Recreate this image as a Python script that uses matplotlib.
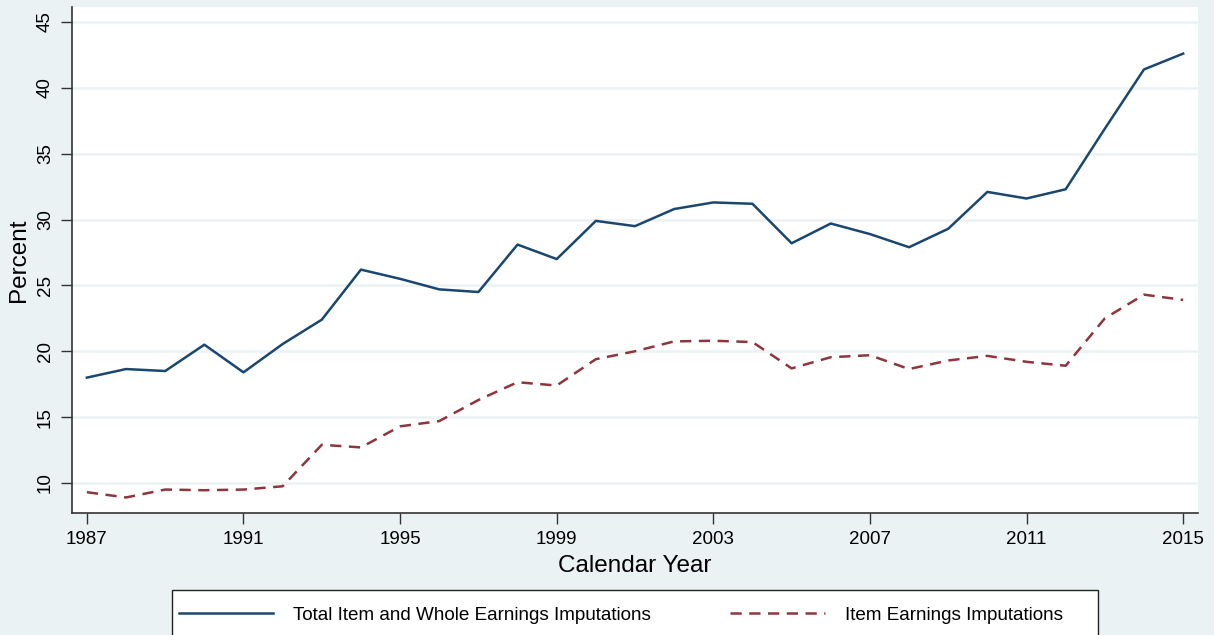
import matplotlib.pyplot as plt
from matplotlib.patches import Rectangle

plt.rcParams['font.family'] = ['Liberation Sans', 'DejaVu Sans']

# data
years = list(range(1987, 2016))
total_imp = [18.0, 18.65, 18.5, 20.5, 18.4, 20.55, 22.4, 26.2, 25.5, 24.7,
             24.5, 28.1, 27.0, 29.9, 29.5, 30.8, 31.3, 31.2, 28.2, 29.7,
             28.9, 27.9, 29.3, 32.1, 31.6, 32.3, 36.9, 41.4, 42.6]
item_imp = [9.3, 8.9, 9.5, 9.45, 9.5, 9.75, 12.9, 12.7, 14.3, 14.7,
            16.3, 17.65, 17.4, 19.4, 20.0, 20.75, 20.8, 20.7, 18.7, 19.55,
            19.7, 18.65, 19.3, 19.65, 19.2, 18.9, 22.5, 24.3, 23.9]
labels = ['Total Item and Whole Earnings Imputations', 'Item Earnings Imputations']
xticks = list(range(1987, 2016, 4))
yticks = list(range(10, 46, 5))

BG = '#eaf2f3'
NAVY = '#1a476f'
MAROON = '#90353b'
W, H = 1214, 635

fig = plt.figure(figsize=(W / 100, H / 100), dpi=100, facecolor=BG)
ax = fig.add_axes([72 / W, 1 - 513 / H, (1198 - 72) / W, (513 - 7) / H])
ax.set_facecolor('white')

ax.plot(years, total_imp, color=NAVY, lw=1.8, label=labels[0])
ax.plot(years, item_imp, color=MAROON, lw=1.8, dashes=(4.5, 3), label=labels[1])

ax.set_xlim(1986.62, 2015.38)
ax.set_ylim(7.72, 46.14)
ax.set_xticks(xticks)
ax.set_yticks(yticks)
ax.grid(axis='y', color=BG, lw=1.8)
ax.set_axisbelow(True)

for s in ['top', 'right']:
    ax.spines[s].set_visible(False)
for s in ['left', 'bottom']:
    ax.spines[s].set_color('#333333')
    ax.spines[s].set_linewidth(1.2)

ax.tick_params(axis='both', length=8, width=1, color='#333333', labelsize=13.5, pad=5)
for lab in ax.get_yticklabels():
    lab.set_rotation(90)
    lab.set_va('center')

ax.set_ylabel('Percent', fontsize=17.5, labelpad=5)
ax.set_xlabel('Calendar Year', fontsize=17.5, labelpad=5)

# legend box (drawn by hand, Stata style: wide, open at the bottom edge)
fig.patches.append(Rectangle((172 / W, 1 - 642 / H), (1098 - 172) / W, 52 / H,
                             transform=fig.transFigure, facecolor='white',
                             edgecolor='#222222', lw=1.0, zorder=1))
leg = fig.legend(loc='center left', bbox_to_anchor=(179 / W, 1 - 615 / H),
                 ncol=2, fontsize=13.6, frameon=False,
                 handlelength=5.0, handletextpad=1.05, columnspacing=4.2,
                 borderpad=0, borderaxespad=0)
leg.set_zorder(2)

fig.savefig('out.png', dpi=100, facecolor=BG)
